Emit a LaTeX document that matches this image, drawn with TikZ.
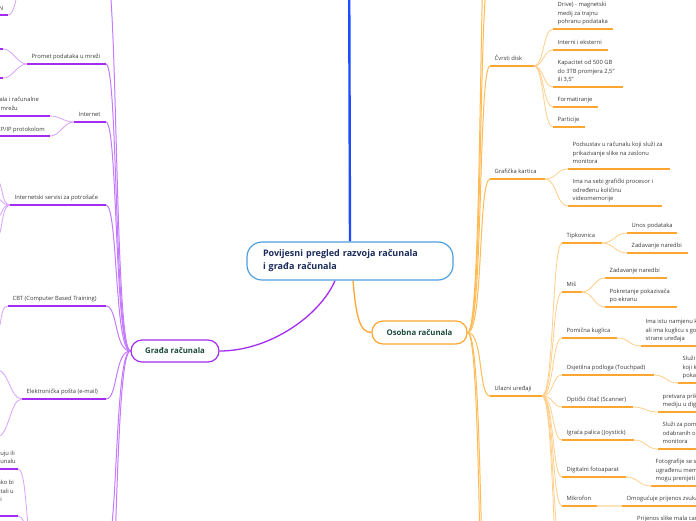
\documentclass[tikz,border=0pt]{standalone}
\usepackage{fontspec}
\setmainfont{Open Sans}
\usetikzlibrary{backgrounds}
\definecolor{pur}{HTML}{A42BF2}
\definecolor{purm}{HTML}{C47AFF}
\definecolor{purl}{HTML}{D7A3FF}
\definecolor{org}{HTML}{FFA630}
\definecolor{orgm}{HTML}{FFBB55}
\definecolor{orgl}{HTML}{FFCF8A}
\definecolor{orgxl}{HTML}{FFE2BA}
\definecolor{blu}{HTML}{1D4BFF}
\definecolor{cbord}{HTML}{4F9FE0}
\definecolor{ctext}{HTML}{1B2B5B}
\definecolor{gtext}{HTML}{1C4A3B}
\definecolor{ltext}{HTML}{3A3A3A}
\tikzset{
  lbl/.style={font=\fontsize{5.8}{8.5}\selectfont, text=ltext, align=left, inner xsep=4.5pt, inner ysep=2.5pt, anchor=south west},
  frag/.style={font=\fontsize{5.8}{8.5}\selectfont, text=ltext, inner sep=0pt, anchor=base east},
  ulp/.style={draw=pur, line width=1.8pt},
  ulo/.style={draw=org, line width=1.8pt},
  cpm/.style={draw=purm, line width=1pt},
  cpl/.style={draw=purl, line width=0.8pt},
  com/.style={draw=orgm, line width=1pt},
  col/.style={draw=orgl, line width=0.8pt},
  coxl/.style={draw=orgxl, line width=1.8pt},
  ctrnode/.style={draw=cbord, line width=1.2pt, fill=white, rounded corners=15pt, text width=174pt, inner xsep=16pt, minimum height=38pt, align=left, font=\fontsize{9}{13}\selectfont\bfseries, text=ctext},
  grnode/.style={draw=pur, line width=1.2pt, fill=white, rounded corners=11pt, minimum width=88pt, minimum height=22pt, font=\fontsize{7.8}{9}\selectfont\bfseries, text=gtext},
  osnode/.style={draw=org, line width=1.2pt, fill=white, rounded corners=11pt, minimum width=95pt, minimum height=23pt, font=\fontsize{7.8}{9}\selectfont\bfseries, text=gtext},
}
\newcommand\mbr[6]{%
  \coordinate (#1-l) at (#2,#4);
  \coordinate (#1-r) at (#3,#4);
  \node[lbl] (#1) at (#1-l) {#6\strut};
  \draw[#5] (#1-l) -- (#1-r);%
}
\newcommand\ubr[5]{%
  \coordinate (#1-l) at (#2,#4);
  \coordinate (#1-r) at (#3,#4);
  \draw[#5] (#1-l) -- (#1-r);%
}
\newcommand\conR[4]{\draw[#1] (#2) .. controls +(#4,0) and +(-#4,0) .. (#3);}
\newcommand\conL[4]{\draw[#1] (#2) .. controls +(-#4,0) and +(#4,0) .. (#3);}
\begin{document}
\begin{tikzpicture}[x=1pt,y=-1pt]
\useasboundingbox (0,0) rectangle (696,520);
\begin{scope}[on background layer]
\fill[white] (0,0) rectangle (696,520);
\end{scope}

% ---------- main nodes
\node[ctrnode] (ctr) at (350,261) {Povijesni pregled razvoja računala\\i građa računala};
\node[grnode] (gr) at (175,351) {Građa računala};
\node[osnode] (os) at (419.5,332.5) {Osobna računala};
\coordinate (btop) at (349,-80);

% ---------- left side (purple)
\ubr{gtop}{27}{106}{-30}{ulp}
\mbr{prom}{27}{106}{64}{ulp}{Promet podataka u mreži}
\mbr{inet}{74}{106}{122}{ulp}{Internet}
\mbr{iserv}{10}{106}{205}{ulp}{Internetski servisi za potrošače}
\mbr{cbt}{8}{106}{306}{ulp}{CBT (Computer Based Training)}
\mbr{email}{22}{106}{399}{ulp}{Elektronička pošta (e-mail)}
\ubr{gbot}{35}{106}{548}{ulp}
\ubr{gbotb}{35}{106}{640}{ulp}

% left children
\ubr{nc}{-80}{8}{15}{ulp}
\node[frag] (fn) at (3.5,10) {LAN, MAN, WAN};
\ubr{pc1}{-80}{3}{49}{ulp}
\ubr{pc2}{-80}{3}{78}{ulp}
\ubr{ic1}{-80}{50}{116}{ulp}
\node[frag] (fi1) at (39,101.5) {Povezuje računala i računalne};
\node[frag] (fi2) at (18,110) {svjetsku mrežu};
\ubr{ic2}{-80}{50}{136}{ulp}
\node[frag] (fi3) at (45,131) {Komunikacija TCP/IP protokolom};
\ubr{is1}{-80}{-6}{178}{ulp}
\ubr{is2}{-80}{-6}{198}{ulp}
\ubr{is3}{-80}{-6}{218}{ulp}
\ubr{is4}{-80}{-6}{240}{ulp}
\ubr{cb1}{-80}{-6}{332}{ulp}
\ubr{em1}{-80}{-3}{370}{ulp}
\ubr{em2}{-80}{-3}{437}{ulp}
\ubr{b1}{-80}{18}{469}{ulp}
\node[frag] (fb1) at (15,455) {koji oštećuju ili};
\node[frag] (fb2) at (16,463.5) {na računalu};
\ubr{b2}{-80}{18}{516}{ulp}
\node[frag] (fb3) at (14,484) {izrađuju se kako bi};
\node[frag] (fb4) at (14,493) {podaci ostali u};
\node[frag] (fb5) at (2,501.5) {slučaju kvara ili};

% ---------- right side (orange)
\ubr{otop1}{490}{560}{-30}{ulo}
\ubr{otop2}{490}{560}{-130}{ulo}
\mbr{cd}{490}{534}{66}{ulo}{Čvrsti disk}
\mbr{gk}{490}{545}{179}{ulo}{Grafička kartica}
\mbr{uu}{490}{542}{396}{ulo}{Ulazni uređaji}
\ubr{obot1}{490}{560}{640}{ulo}
\ubr{obot2}{490}{560}{800}{ulo}

\mbr{cd1}{553}{613}{29}{ulo}{Tvrdi disk (Hard Disk\\Drive) - magnetski\\medij za trajnu\\pohranu podataka}
\mbr{cd2}{553}{608}{50}{ulo}{Interni i eksterni}
\mbr{cd3}{553}{623}{87}{ulo}{Kapacitet od 500 GB\\do 3TB promjera 2,5"\\ili 3,5"}
\mbr{cd4}{553}{598}{107}{ulo}{Formatiranje}
\mbr{cd5}{553}{585}{127}{ulo}{Particije}

\mbr{gk1}{568}{670}{169}{ulo}{Podsustav u računalu koji služi za\\prikazivanje slike na zaslonu\\monitora}
\mbr{gk2}{568}{662}{206}{ulo}{Ima na sebi grafički procesor i\\određenu količinu\\videomemorije}

\mbr{tip}{562}{602}{243}{ulo}{Tipkovnica}
\mbr{tip1}{627}{677}{233}{ulo}{Unos podataka}
\mbr{tip2}{627}{688}{253}{ulo}{Zadavanje naredbi}
\mbr{mis}{562}{582}{292}{ulo}{Miš}
\mbr{mis1}{605}{667}{278}{ulo}{Zadavanje naredbi}
\mbr{mis2}{605}{677}{307}{ulo}{Pokretanje pokazivača\\po ekranu}
\mbr{pk}{562}{617}{338}{ulo}{Pomična kuglica}
\mbr{pk1}{641}{800}{346}{ulo}{Ima istu namjenu kao i miš,\\ali ima kuglicu s gornje\\strane uređaja}
\mbr{tp}{562}{654}{375}{ulo}{Osjetilna podloga (Touchpad)}
\mbr{tp1}{678}{800}{383}{ulo}{Služi kao miš na prijenosnicima\\koji kontrolira\\pokazivač}
\mbr{sc}{562}{633}{407}{ulo}{Optički čitač (Scanner)}
\mbr{sc1}{658}{800}{412}{ulo}{pretvara prikaz na papirnatom\\mediju u digitalni oblik}
\mbr{js}{562}{634}{440}{ulo}{Igraća palica (Joystick)}
\mbr{js1}{658}{800}{449}{ulo}{Služi za pomicanje\\odabranih objekata na zaslonu\\monitora}
\mbr{df}{562}{626}{477}{ulo}{Digitalni fotoaparat}
\mbr{df1}{651}{800}{486}{ulo}{Fotografije se spremaju na\\ugrađenu memoriju te se\\mogu prenijeti na računalo}
\mbr{mk}{562}{597}{506}{ulo}{Mikrofon}
\mbr{mk1}{622}{800}{506}{ulo}{Omogućuje prijenos zvuka u računalo}
\ubr{wk}{562}{610}{548}{ulo}
\ubr{wk1}{632}{800}{548}{ulo}
\node[frag, anchor=base west] (fwk) at (637,520.5) {Prijenos slike mala camera};
\ubr{uub}{562}{610}{590}{ulo}

% ---------- connectors
\begin{scope}[on background layer]
\draw[blu, line width=2.4pt] (btop) -- (ctr.north);
\draw[pur, line width=1.3pt] ([xshift=-15pt]ctr.south) .. controls +(-15,35) and +(50,0) .. (gr.east);
\draw[org, line width=1.3pt] ([xshift=3pt]ctr.south) .. controls +(3,35) and +(-12,0) .. (os.west);

\foreach \t in {gtop,prom,inet,iserv,cbt,email,gbot,gbotb}
  {\draw[cpm] (gr.west) .. controls +(-16,0) and +(12,0) .. (\t-r);}
\foreach \t in {otop1,otop2,cd,gk,uu,obot1,obot2}
  {\draw[com] (os.east) .. controls +(16,0) and +(-12,0) .. (\t-l);}

\conL{cpl}{gtop-l}{nc-r}{10}
\conL{cpl}{prom-l}{pc1-r}{10}
\conL{cpl}{prom-l}{pc2-r}{10}
\conL{cpl}{inet-l}{ic1-r}{10}
\conL{cpl}{inet-l}{ic2-r}{10}
\foreach \t in {is1,is2,is3,is4}
  {\conL{cpl}{iserv-l}{\t-r}{10}}
\conL{cpl}{cbt-l}{cb1-r}{10}
\conL{cpl}{email-l}{em1-r}{12}
\conL{cpl}{email-l}{em2-r}{12}
\conL{cpl}{gbot-l}{b1-r}{10}
\conL{cpl}{gbot-l}{b2-r}{10}

\foreach \t in {cd1,cd2,cd3,cd4,cd5}
  {\conR{col}{cd-r}{\t-l}{10}}
\conR{col}{gk-r}{gk1-l}{12}
\conR{col}{gk-r}{gk2-l}{12}
\foreach \t in {tip,mis,pk,tp,sc,js,df,mk,wk,uub}
  {\draw[col] (uu-r) .. controls +(12,0) and +(-10,0) .. (\t-l);}
\conR{col}{tip-r}{tip1-l}{12}
\conR{col}{tip-r}{tip2-l}{12}
\conR{col}{mis-r}{mis1-l}{11}
\conR{col}{mis-r}{mis2-l}{11}
\conR{col}{pk-r}{pk1-l}{12}
\conR{col}{tp-r}{tp1-l}{12}
\conR{col}{sc-r}{sc1-l}{12}
\conR{col}{js-r}{js1-l}{12}
\conR{col}{df-r}{df1-l}{12}
\draw[coxl] (mk-r) -- (mk1-l);
\conR{col}{wk-r}{wk1-l}{10}
\end{scope}
\end{tikzpicture}
\end{document}
